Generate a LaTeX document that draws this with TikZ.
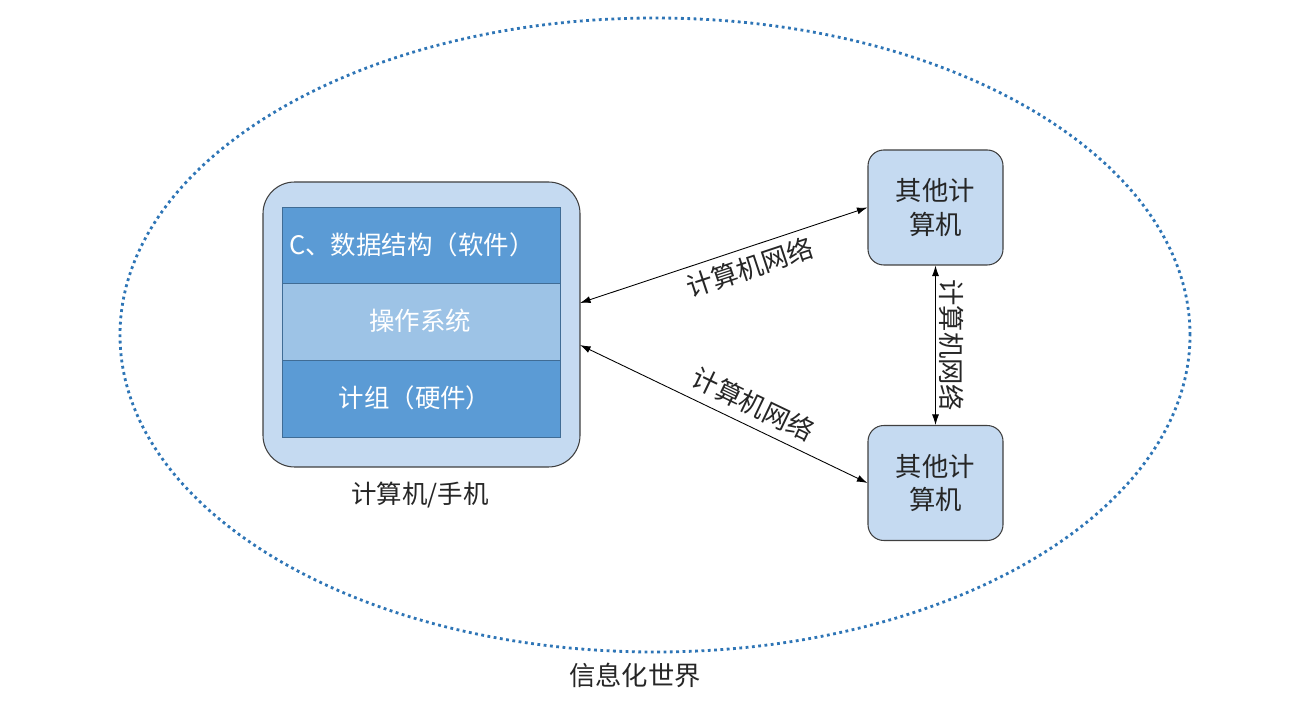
\documentclass[tikz,border=0pt]{standalone}
\usepackage{fontspec}
\setmainfont{Noto Sans CJK SC}
\usetikzlibrary{arrows.meta,shapes.geometric}
\definecolor{darkb}{HTML}{5B9BD5}
\definecolor{lightb}{HTML}{9DC3E6}
\definecolor{boxfill}{HTML}{C5DAF1}
\definecolor{dotb}{HTML}{2E75B6}
\begin{document}
\begin{tikzpicture}[x=0.02cm,y=-0.02cm,
  txt/.style={font=\fontsize{14.5pt}{17pt}\selectfont,text=black!85},
  layer/.style={draw=darkb!70!black,line width=0.5pt,minimum width=278*0.02cm,minimum height=76.5*0.02cm,inner sep=0pt},
  wtxt/.style={txt,text=white},
  other/.style={draw=black!75,line width=0.6pt,fill=boxfill,rounded corners=9pt,minimum width=135*0.02cm,minimum height=115*0.02cm,align=center,txt,font=\fontsize{15pt}{19pt}\selectfont},
  link/.style={{Latex[length=6pt,width=4pt]}-{Latex[length=6pt,width=4pt]},line width=0.5pt},
  lab/.style={font=\fontsize{15pt}{18pt}\selectfont,inner sep=2pt,text=black!85}]
\useasboundingbox (0,0) rectangle (1300,705);
% world ellipse
\node[draw=dotb,dotted,line width=1.6pt,ellipse,minimum width=1070*0.02cm,minimum height=634*0.02cm,inner sep=0pt] (world) at (655,335) {};
\node[lab] (worldlbl) at (635,675) {信息化世界};
% main computer
\node[draw=black!75,line width=0.6pt,fill=boxfill,rounded corners=18pt,minimum width=317*0.02cm,minimum height=285*0.02cm] (pc) at (421.5,324.5) {};
\node[layer,fill=darkb,anchor=north west] (sw) at (282,207) {};
\node[layer,fill=lightb,anchor=north west] (os) at (282,283.5) {};
\node[layer,fill=darkb,anchor=north west] (hw) at (282,360) {};
\node[wtxt] (swt) at (412,245) {C、数据结构（软件）};
\node[wtxt] (ost) at (420,321) {操作系统};
\node[wtxt] (hwt) at (415,398) {计组（硬件）};
\node[txt] (pclbl) at (420,495) {计算机/手机};
% other computers
\node[other] (o1) at (935.5,207.5) {其他计\\算机};
\node[other] (o2) at (935.5,483) {其他计\\算机};
% connectors
\coordinate (a1) at (580,303);
\coordinate (a2) at (580,345);
\draw[link] (a1) -- (o1.west) node[lab,pos=0.57,sloped,below,yshift=-2pt] {计算机网络};
\draw[link] (a2) -- (o2.west) node[lab,pos=0.57,sloped,above,yshift=3pt] {计算机网络};
\draw[link] (o1.south) -- (o2.north) node[lab,midway,rotate=-90,anchor=south] {计算机网络};
\end{tikzpicture}
\end{document}
